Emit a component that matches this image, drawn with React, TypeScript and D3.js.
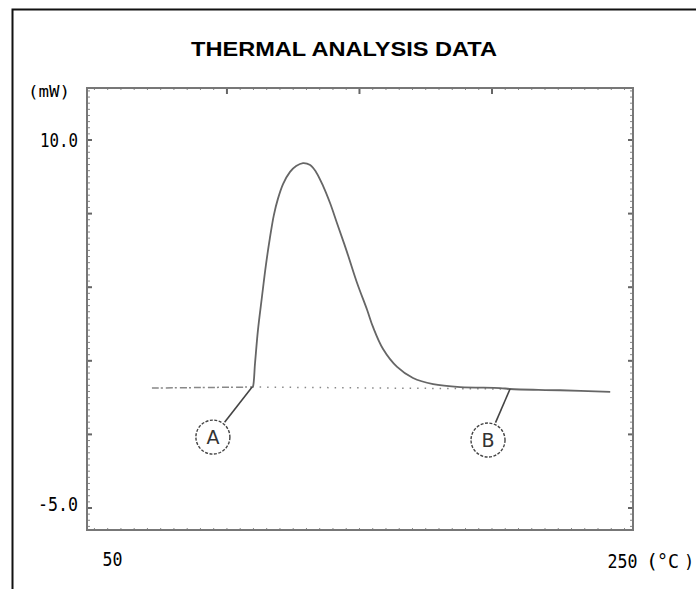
import React, { useEffect, useRef } from "react";
import * as d3 from "d3";

// temperature (°C) and heat flow (mW)
const temps = [71.7, 90, 109.5, 109.8, 110.6, 111.7, 113.2, 114.7, 116.2, 117.7, 119.2, 121.2, 123.8, 126.1, 128.7, 131.4, 133.6, 136.3, 138.9, 141.5, 145.3, 149.1, 152.9, 155.1, 158.9, 164.2, 170.2, 177.8, 188.0, 203.1, 206.8, 225.7, 244.6];
const heatFlow = [-0.11, -0.09, -0.07, -0.05, 0.91, 2.25, 3.6, 4.9, 6.0, 6.94, 7.59, 8.21, 8.7, 8.94, 9.06, 8.98, 8.7, 8.12, 7.43, 6.62, 5.43, 4.17, 3.07, 2.38, 1.48, 0.75, 0.3, 0.05, -0.07, -0.11, -0.15, -0.2, -0.27];

const yTickLabels = [10, -5];
const xTickLabels = [50, 250];
const topTicks = [100, 150, 200];
const sideTicks = [10, 7, 4, 1, -2, -5];

// onset / end points of the peak
const marks = [
  { name: "A", t: 109.5, v: -0.07, lt: 94.7, lv: -2.11 },
  { name: "B", t: 206.8, v: -0.15, lt: 198.5, lv: -2.23 },
];

const W = 696;
const H = 589;

function D3Thermal() {
  const ref = useRef<SVGSVGElement>(null);

  useEffect(() => {
    const svg = d3.select(ref.current);
    svg.selectAll("*").remove();

    const left = 87, right = 633, top = 88, bottom = 530;
    const x = d3.scaleLinear().domain([47.2, 253.2]).range([left, right]);
    const y = d3.scaleLinear().domain([-5, 10]).range([508, 140]);
    const mono = "DejaVu Sans Mono, monospace";

    svg.append("rect").attr("width", W).attr("height", H).attr("fill", "#fff");

    // outer page border
    svg.append("path")
      .attr("d", `M12.5,${H} L12.5,9.5 L${W},9.5`)
      .attr("fill", "none")
      .attr("stroke", "#111")
      .attr("stroke-width", 2);

    svg.append("text")
      .attr("x", 344).attr("y", 56)
      .attr("text-anchor", "middle")
      .attr("font-family", "Liberation Sans, Arial, sans-serif")
      .attr("font-weight", "bold")
      .attr("font-size", 21)
      .attr("textLength", 306)
      .attr("lengthAdjust", "spacingAndGlyphs")
      .attr("fill", "#000")
      .text("THERMAL ANALYSIS DATA");

    // minor ticks (scan-like)
    const g = svg.append("g").attr("stroke", "#888").attr("stroke-width", 1);
    const minorY = d3.range(-5.75, 12.01, 0.25);
    g.selectAll("line.ml").data(minorY).join("line").attr("class", "ml")
      .attr("x1", left).attr("x2", left + 3).attr("y1", d => y(d)).attr("y2", d => y(d));
    g.selectAll("line.mr").data(minorY).join("line").attr("class", "mr")
      .attr("x1", right).attr("x2", right - 3).attr("y1", d => y(d)).attr("y2", d => y(d));
    const minorX = d3.range(50, 252, 5);
    g.selectAll("line.mt").data(minorX).join("line").attr("class", "mt")
      .attr("x1", d => x(d)).attr("x2", d => x(d)).attr("y1", top).attr("y2", top + 2);
    g.selectAll("line.mb").data(minorX).join("line").attr("class", "mb")
      .attr("x1", d => x(d)).attr("x2", d => x(d)).attr("y1", bottom).attr("y2", bottom - 2);

    // major ticks
    const gm = svg.append("g").attr("stroke", "#666").attr("stroke-width", 2);
    gm.selectAll("line.tt").data(topTicks).join("line").attr("class", "tt")
      .attr("x1", d => x(d)).attr("x2", d => x(d)).attr("y1", top).attr("y2", top + 6);
    gm.selectAll("line.rt").data(sideTicks).join("line").attr("class", "rt")
      .attr("x1", right).attr("x2", right - 5).attr("y1", d => y(d)).attr("y2", d => y(d));
    gm.selectAll("line.lt").data(sideTicks).join("line").attr("class", "lt")
      .attr("x1", left).attr("x2", left + 5).attr("y1", d => y(d)).attr("y2", d => y(d));

    // plot frame
    svg.append("rect")
      .attr("x", left).attr("y", top)
      .attr("width", right - left).attr("height", bottom - top)
      .attr("fill", "none")
      .attr("stroke", "#777")
      .attr("stroke-width", 2);

    // axis labels
    svg.append("text")
      .attr("x", 28).attr("y", 97)
      .attr("font-family", mono).attr("font-size", 16)
      .attr("textLength", 42).attr("lengthAdjust", "spacingAndGlyphs")
      .text("(mW)");

    svg.selectAll("text.yl").data(yTickLabels).join("text").attr("class", "yl")
      .attr("x", 78).attr("y", (d, i) => y(d) + (i === 0 ? 7 : 3))
      .attr("text-anchor", "end")
      .attr("font-family", mono).attr("font-size", 20)
      .attr("textLength", d => (d < 0 ? 40 : 38)).attr("lengthAdjust", "spacingAndGlyphs")
      .text(d => d.toFixed(1));

    svg.selectAll("text.xl").data(xTickLabels).join("text").attr("class", "xl")
      .attr("x", (d, i) => (i === 0 ? x(d) + 8 : x(d) - 17))
      .attr("y", (d, i) => (i === 0 ? 566 : 568))
      .attr("font-family", mono).attr("font-size", 20)
      .attr("textLength", d => String(d).length * 10).attr("lengthAdjust", "spacingAndGlyphs")
      .text(d => String(d));

    // unit label, split so it stays inside the page
    const unit = svg.append("g").attr("font-family", mono).attr("fill", "#000");
    unit.append("text").attr("x", 646).attr("y", 568).attr("font-size", 20).text("(");
    unit.append("text").attr("x", 657).attr("y", 568).attr("font-size", 20)
      .attr("textLength", 22).attr("lengthAdjust", "spacingAndGlyphs").text("°C");
    unit.append("text").attr("x", 684).attr("y", 568).attr("font-size", 17).text(")");

    const pts = temps.map((t, i) => [t, heatFlow[i]] as [number, number]);
    const line = d3.line<[number, number]>().x(d => x(d[0])).y(d => y(d[1])).curve(d3.curveCatmullRom.alpha(0.5));

    // interpolated baseline A-B
    svg.append("line")
      .attr("x1", x(marks[0].t)).attr("y1", y(marks[0].v))
      .attr("x2", x(marks[1].t)).attr("y2", y(marks[1].v))
      .attr("stroke", "#888").attr("stroke-width", 1.5)
      .attr("stroke-dasharray", "1.5,6");

    // pre-onset baseline, dashed like the scan
    svg.append("path")
      .attr("d", line(pts.slice(0, 3)))
      .attr("fill", "none").attr("stroke", "#888").attr("stroke-width", 1.5)
      .attr("stroke-dasharray", "7,2,2,3");

    svg.append("path")
      .attr("d", line(pts.slice(2)))
      .attr("fill", "none").attr("stroke", "#666").attr("stroke-width", 1.8);

    // A / B callouts
    const r = 17;
    marks.forEach(m => {
      const px = x(m.t), py = y(m.v);
      const cx = x(m.lt), cy = y(m.lv);
      const a = Math.atan2(py - cy, px - cx);
      svg.append("line")
        .attr("x1", px).attr("y1", py)
        .attr("x2", cx + Math.cos(a) * (r + 2)).attr("y2", cy + Math.sin(a) * (r + 2))
        .attr("stroke", "#444").attr("stroke-width", 1.6);
      svg.append("circle")
        .attr("cx", cx).attr("cy", cy).attr("r", r)
        .attr("fill", "none").attr("stroke", "#444").attr("stroke-width", 1.4)
        .attr("stroke-dasharray", "3,1.5");
      svg.append("text")
        .attr("x", cx).attr("y", cy + 7)
        .attr("text-anchor", "middle")
        .attr("font-family", "DejaVu Sans, sans-serif").attr("font-size", 19)
        .attr("fill", "#333")
        .text(m.name);
    });
  }, []);

  return <svg ref={ref} width={W} height={H} style={{ position: "absolute", left: 0, top: 0 }} />;
}

export default function App() {
  return <D3Thermal />;
}
